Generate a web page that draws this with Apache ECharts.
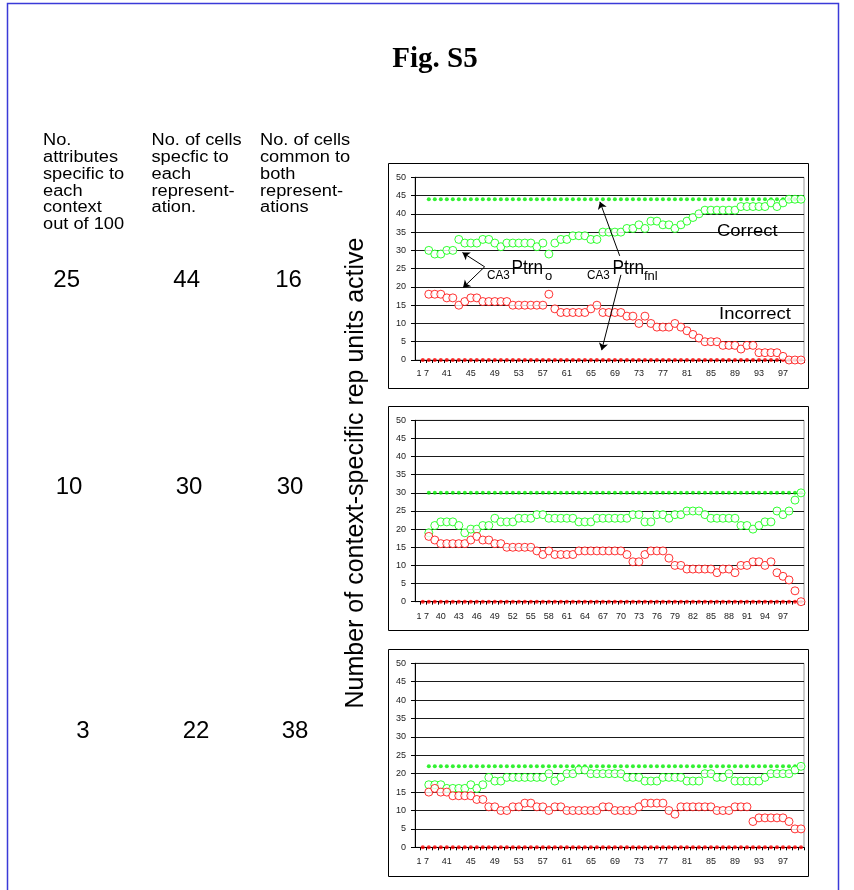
<!DOCTYPE html>
<html>
<head>
<meta charset="utf-8">
<script src="https://cdn.jsdelivr.net/npm/echarts@6/dist/echarts.min.js"></script>
<style>
  html, body { margin: 0; padding: 0; background: #fff; }
  #fig { width: 854px; height: 890px; }
</style>
</head>
<body>
<div id="fig"></div>
<script>
// Step numbers along the x axis, shared by all three panels
const steps = [
  37, 38, 39, 40, 41, 42, 43, 44, 45, 46, 47, 48, 49, 50, 51, 52,
  53, 54, 55, 56, 57, 58, 59, 60, 61, 62, 63, 64, 65, 66, 67, 68,
  69, 70, 71, 72, 73, 74, 75, 76, 77, 78, 79, 80, 81, 82, 83, 84,
  85, 86, 87, 88, 89, 90, 91, 92, 93, 94, 95, 96, 97, 98, 99, 100
];

// Panel 1: 25 attributes specific to each context, 44 specific cells, 16 common
const p1FinalCorrect = [
  44,44,44,44,44,44,44,44,44,44, 44,44,44,44,44,44,44,44,44,44,
  44,44,44,44,44,44,44,44,44,44, 44,44,44,44,44,44,44,44,44,44,
  44,44,44,44,44,44,44,44,44,44, 44,44,44,44,44,44,44,44,44,44,
  44,44,44
];
const p1FinalIncorrect = [
  0,0,0,0,0,0,0,0,0,0, 0,0,0,0,0,0,0,0,0,0, 0,0,0,0,0,0,0,0,0,0,
  0,0,0,0,0,0,0,0,0,0, 0,0,0,0,0,0,0,0,0,0, 0,0,0,0,0,0,0,0,0,0,
  0,0,0,0
];
const p1Correct = [
  30,29,29,30,30,33,32,32,32,33, 33,32,31,32,32,32,32,32,31,32,
  29,32,33,33,34,34,34,33,33,35, 35,35,35,36,36,37,36,38,38,37,
  37,36,37,38,39,40,41,41,41,41, 41,41,42,42,42,42,42,43,42,43,
  44,44,44
];
const p1Incorrect = [
  18,18,18,17,17,15,16,17,17,16, 16,16,16,16,15,15,15,15,15,15,
  18,14,13,13,13,13,13,14,15,13, 13,13,13,12,12,10,12,10,9,9,
  9,10,9,8,7,6,5,5,5,4, 4,4,3,4,4,2,2,2,2,1,
  0,0,0
];

// Panel 2: 10 attributes, 30 specific cells, 30 common
const p2FinalCorrect = [
  30,30,30,30,30,30,30,30,30,30, 30,30,30,30,30,30,30,30,30,30,
  30,30,30,30,30,30,30,30,30,30, 30,30,30,30,30,30,30,30,30,30,
  30,30,30,30,30,30,30,30,30,30, 30,30,30,30,30,30,30,30,30,30,
  30,30,30
];
const p2FinalIncorrect = [
  0,0,0,0,0,0,0,0,0,0, 0,0,0,0,0,0,0,0,0,0, 0,0,0,0,0,0,0,0,0,0,
  0,0,0,0,0,0,0,0,0,0, 0,0,0,0,0,0,0,0,0,0, 0,0,0,0,0,0,0,0,0,0,
  0,0,0,0
];
const p2Correct = [
  19,21,22,22,22,21,19,20,20,21, 21,23,22,22,22,23,23,23,24,24,
  23,23,23,23,23,22,22,22,23,23, 23,23,23,23,24,24,22,22,24,24,
  23,24,24,25,25,25,24,23,23,23, 23,23,21,21,20,21,22,22,25,24,
  25,28,30
];
const p2Incorrect = [
  18,17,16,16,16,16,16,17,18,17, 17,16,16,15,15,15,15,15,14,13,
  14,13,13,13,13,14,14,14,14,14, 14,14,14,13,11,11,13,14,14,14,
  12,10,10,9,9,9,9,9,8,9, 9,8,10,10,11,11,10,11,8,7,
  6,3,0
];

// Panel 3: 3 attributes, 22 specific cells, 38 common
const p3FinalCorrect = [
  22,22,22,22,22,22,22,22,22,22, 22,22,22,22,22,22,22,22,22,22,
  22,22,22,22,22,22,22,22,22,22, 22,22,22,22,22,22,22,22,22,22,
  22,22,22,22,22,22,22,22,22,22, 22,22,22,22,22,22,22,22,22,22,
  22,22,22
];
const p3FinalIncorrect = [
  0,0,0,0,0,0,0,0,0,0, 0,0,0,0,0,0,0,0,0,0, 0,0,0,0,0,0,0,0,0,0,
  0,0,0,0,0,0,0,0,0,0, 0,0,0,0,0,0,0,0,0,0, 0,0,0,0,0,0,0,0,0,0,
  0,0,0,0
];
const p3Correct = [
  17,17,17,16,16,16,16,17,16,17, 19,18,18,19,19,19,19,19,19,19,
  20,18,19,20,20,21,21,20,20,20, 20,20,20,19,19,19,18,18,18,19,
  19,19,19,18,18,18,20,20,19,19, 20,18,18,18,18,18,19,20,20,20,
  20,21,22
];
const p3Incorrect = [
  15,16,15,15,14,14,14,14,13,13, 11,11,10,10,11,11,12,12,11,11,
  10,11,11,10,10,10,10,10,10,11, 11,10,10,10,10,11,12,12,12,12,
  10,9,11,11,11,11,11,11,10,10, 10,11,11,11,7,8,8,8,8,8,
  7,5,5
];

// Tick labels on the step axes
const tickValues4 = [37, 41, 45, 49, 53, 57, 61, 65, 69, 73, 77, 81, 85, 89, 93, 97];
const tickLabels4 = ['1 7', '41', '45', '49', '53', '57', '61', '65', '69', '73', '77', '81', '85', '89', '93', '97'];
const tickValues3 = [37, 40, 43, 46, 49, 52, 55, 58, 61, 64, 67, 70, 73, 76, 79, 82, 85, 88, 91, 94, 97];
const tickLabels3 = ['1 7', '40', '43', '46', '49', '52', '55', '58', '61', '64', '67', '70', '73', '76', '79', '82', '85', '88', '91', '94', '97'];

// Row annotations at the left
const rowAttributes = ['25', '10', '3'];
const rowSpecific = ['44', '30', '22'];
const rowCommon = ['16', '30', '38'];

const SANS = 'Liberation Sans, Arial, sans-serif';
const GREEN = '#00ee00';
const RED = '#ff0000';

// minor ticks at the boundaries between steps
const stepTicks = [];
for (let s = 36.5; s <= 100.5; s += 1) stepTicks.push(s);

function pairs(xs, ys) { return ys.map((y, i) => [xs[i], y]); }

const panels = [
  { top: 177.3, height: 182.7, labelMargin: 9, tv: tickValues4, tl: tickLabels4,
    finalC: p1FinalCorrect, finalI: p1FinalIncorrect, c: p1Correct, i: p1Incorrect },
  { top: 420.3, height: 181.4, labelMargin: 10, tv: tickValues3, tl: tickLabels3,
    finalC: p2FinalCorrect, finalI: p2FinalIncorrect, c: p2Correct, i: p2Incorrect },
  { top: 663.3, height: 184, labelMargin: 10, tv: tickValues4, tl: tickLabels4,
    finalC: p3FinalCorrect, finalI: p3FinalIncorrect, c: p3Correct, i: p3Incorrect }
];

const grids = [], xAxes = [], yAxes = [], series = [];
panels.forEach((p, k) => {
  grids.push({
    left: 415, top: p.top, width: 389, height: p.height,
    show: true, borderColor: '#9a9a9a', borderWidth: 1, backgroundColor: 'transparent'
  });
  xAxes.push({
    type: 'value', gridIndex: k, min: 35.7, max: 100.5,
    axisLine: { show: true, onZero: false, lineStyle: { color: '#000', width: 1 } },
    splitLine: { show: false },
    axisTick: { show: true, customValues: stepTicks, length: 3, lineStyle: { color: '#000' } },
    axisLabel: {
      customValues: p.tv,
      formatter: v => p.tl[p.tv.indexOf(v)],
      fontSize: 9, color: '#222', fontFamily: SANS, margin: p.labelMargin
    }
  });
  yAxes.push({
    type: 'value', gridIndex: k, min: 0, max: 50, interval: 5,
    axisLine: { show: true, lineStyle: { color: '#000', width: 1 } },
    axisTick: { show: true, length: 4, lineStyle: { color: '#000' } },
    splitLine: { show: true, lineStyle: { color: '#1a1a1a', width: 1 } },
    axisLabel: { fontSize: 9, color: '#222', fontFamily: SANS, margin: 9 }
  });
  const common = { type: 'scatter', xAxisIndex: k, yAxisIndex: k, silent: true };
  series.push(Object.assign({}, common, {
    name: 'CA3Ptrn_fnl incorrect', data: pairs(steps, p.finalI),
    symbol: 'circle', symbolSize: 4, itemStyle: { color: RED }, z: 2
  }));
  series.push(Object.assign({}, common, {
    name: 'CA3Ptrn_fnl correct', data: pairs(steps.slice(1), p.finalC),
    symbol: 'circle', symbolSize: 4, itemStyle: { color: GREEN }, z: 2
  }));
  series.push(Object.assign({}, common, {
    name: 'CA3Ptrn_o correct', data: pairs(steps.slice(1), p.c),
    symbol: 'circle', symbolSize: 8,
    itemStyle: { color: '#fff', borderColor: '#00ff00', borderWidth: 1 }, z: 3
  }));
  series.push(Object.assign({}, common, {
    name: 'CA3Ptrn_o incorrect', data: pairs(steps.slice(1), p.i),
    symbol: 'circle', symbolSize: 8,
    itemStyle: { color: '#fff', borderColor: RED, borderWidth: 1 }, z: 4
  }));
});

// Pointer arrows in the first panel (step, units active)
const arrowLine = (from, to) => [{ coord: from, symbol: 'none' }, { coord: to, symbol: 'arrow' }];
series[3].markLine = {
  silent: true, symbol: ['none', 'arrow'], symbolSize: 7, animation: false,
  lineStyle: { color: '#000', width: 1, type: 'solid' },
  label: { show: false },
  data: [
    arrowLine([47.3, 25.5], [43.6, 29.4]),
    arrowLine([47.3, 25.5], [43.7, 19.8]),
    arrowLine([69.8, 28.5], [66.5, 43.3]),
    arrowLine([70.0, 23.3], [66.8, 2.7])
  ]
};

function txt(x, y, text, opts) {
  const o = opts || {};
  return {
    type: 'text', x: x, y: y, scaleX: o.scaleX || 1, rotation: o.rotation || 0, z: 10,
    style: {
      text: text, fill: o.color || '#000',
      fontSize: o.size || 16, fontFamily: o.family || SANS, fontWeight: o.weight || 'normal',
      align: o.align || 'left', verticalAlign: o.valign || 'middle',
      lineHeight: o.lineHeight
    }
  };
}

const graphic = [
  { type: 'rect', shape: { x: 7.5, y: 3.5, width: 831, height: 900 },
    style: { fill: 'none', stroke: '#3a3ad8', lineWidth: 1.5 }, z: 0 },
  { type: 'rect', shape: { x: 388.5, y: 163.5, width: 420, height: 225 },
    style: { fill: 'none', stroke: '#000', lineWidth: 1 }, z: 0 },
  { type: 'rect', shape: { x: 388.5, y: 406.5, width: 420, height: 224 },
    style: { fill: 'none', stroke: '#000', lineWidth: 1 }, z: 0 },
  { type: 'rect', shape: { x: 388.5, y: 649.5, width: 420, height: 227 },
    style: { fill: 'none', stroke: '#000', lineWidth: 1 }, z: 0 },
  txt(435, 60, 'Fig. S5', { size: 29, weight: 'bold', family: 'Liberation Serif, Times New Roman, serif', align: 'center' }),
  txt(43, 132.4, 'No.\nattributes\nspecific to\neach\ncontext\nout of 100', { scaleX: 1.14, valign: 'top', lineHeight: 16.8 }),
  txt(151.5, 132.4, 'No. of cells\nspecfic to\neach\nrepresent-\nation.', { scaleX: 1.14, valign: 'top', lineHeight: 16.8 }),
  txt(260, 132.4, 'No. of cells\ncommon to\nboth\nrepresent-\nations', { scaleX: 1.14, valign: 'top', lineHeight: 16.8 }),
  txt(356, 473, 'Number of context-specific rep units active', { size: 25, align: 'center', rotation: Math.PI / 2 }),
  txt(717, 231, 'Correct', { size: 16.5, scaleX: 1.12 }),
  txt(719, 314, 'Incorrect', { size: 16.5, scaleX: 1.12 }),
  txt(487, 275.5, 'CA3', { size: 13, scaleX: 0.9 }),
  txt(511.5, 268, 'Ptrn', { size: 20, scaleX: 0.86 }),
  txt(545, 276.5, 'o', { size: 13 }),
  txt(587, 275.5, 'CA3', { size: 13, scaleX: 0.9 }),
  txt(612.5, 268, 'Ptrn', { size: 20, scaleX: 0.86 }),
  txt(644, 276.5, 'fnl', { size: 13 })
];

const rowY = [280, 487, 731];
const colX = [[66.7, 186.7, 288.5], [69, 189, 290], [83, 196, 295]];
rowY.forEach((y, r) => {
  graphic.push(txt(colX[r][0], y, rowAttributes[r], { size: 24, align: 'center' }));
  graphic.push(txt(colX[r][1], y, rowSpecific[r], { size: 24, align: 'center' }));
  graphic.push(txt(colX[r][2], y, rowCommon[r], { size: 24, align: 'center' }));
});

const chart = echarts.init(document.getElementById('fig'), null, { renderer: 'canvas' });
chart.setOption({
  animation: false,
  backgroundColor: '#fff',
  grid: grids,
  xAxis: xAxes,
  yAxis: yAxes,
  series: series,
  graphic: graphic
});
</script>
</body>
</html>
